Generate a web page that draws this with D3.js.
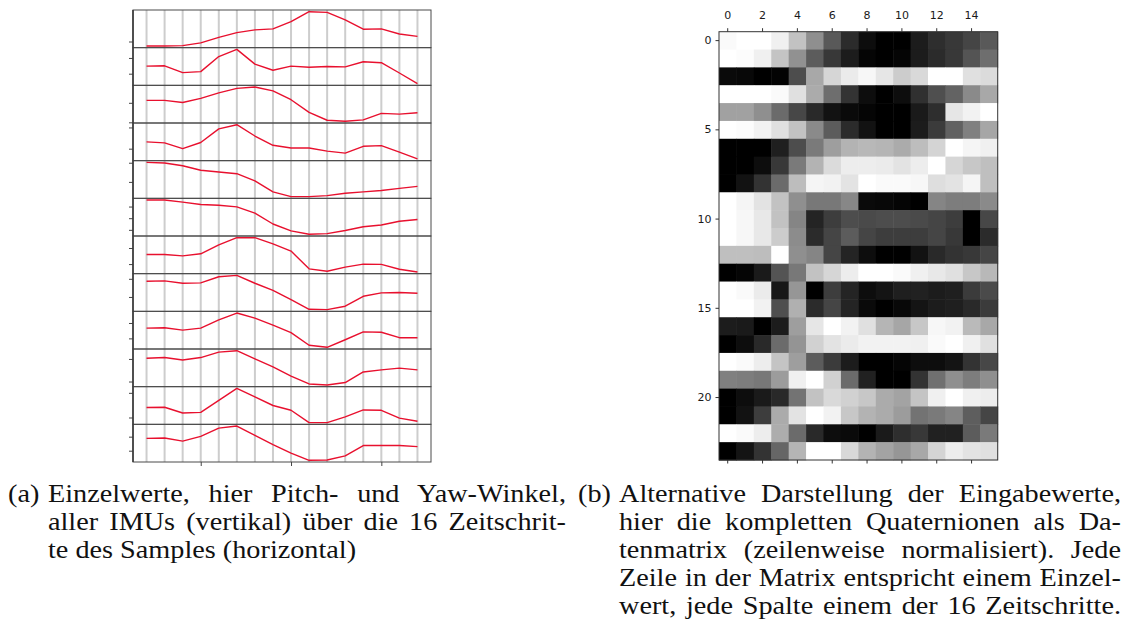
<!DOCTYPE html>
<html>
<head>
<meta charset="utf-8">
<script src="https://cdn.jsdelivr.net/npm/d3@7"></script>
<style>
  html, body { margin: 0; padding: 0; background: #fff; }
  svg { display: block; }
</style>
</head>
<body>
<svg id="fig" width="1129" height="637"></svg>
<script>
// ---- data -------------------------------------------------------------

// 16 time steps of one sample
const timeSteps = [0, 1, 2, 3, 4, 5, 6, 7, 8, 9, 10, 11, 12, 13, 14, 15];
const timeTicks = [3, 8, 13];

// Pitch / yaw angle traces of all IMUs (one row per subplot, scaled 0..1)
const angleSeries = [
  [0.00, 0.00, 0.01, 0.09, 0.25, 0.39, 0.47, 0.50, 0.71, 1.00, 0.98, 0.76, 0.49, 0.50, 0.35, 0.28],
  [0.51, 0.52, 0.32, 0.35, 0.79, 1.00, 0.57, 0.39, 0.51, 0.48, 0.50, 0.49, 0.64, 0.61, 0.31, 0.00],
  [0.61, 0.61, 0.55, 0.67, 0.83, 0.96, 1.00, 0.89, 0.63, 0.26, 0.03, 0.00, 0.04, 0.23, 0.21, 0.25],
  [0.50, 0.47, 0.30, 0.48, 0.88, 1.00, 0.67, 0.40, 0.32, 0.32, 0.23, 0.17, 0.37, 0.39, 0.20, 0.00],
  [1.00, 0.98, 0.90, 0.77, 0.72, 0.67, 0.46, 0.14, 0.00, 0.00, 0.03, 0.10, 0.14, 0.18, 0.24, 0.30],
  [1.00, 1.00, 0.94, 0.87, 0.85, 0.80, 0.62, 0.30, 0.10, 0.00, 0.02, 0.11, 0.22, 0.27, 0.38, 0.43],
  [0.51, 0.51, 0.47, 0.53, 0.79, 1.00, 1.00, 0.82, 0.61, 0.09, 0.02, 0.14, 0.23, 0.22, 0.08, 0.00],
  [0.83, 0.84, 0.77, 0.78, 0.96, 1.00, 0.77, 0.56, 0.29, 0.01, 0.00, 0.10, 0.39, 0.49, 0.50, 0.48],
  [0.56, 0.57, 0.50, 0.56, 0.80, 1.00, 0.85, 0.65, 0.43, 0.06, 0.00, 0.22, 0.45, 0.44, 0.28, 0.28],
  [0.78, 0.80, 0.73, 0.80, 0.96, 1.00, 0.76, 0.53, 0.26, 0.03, 0.00, 0.07, 0.38, 0.44, 0.49, 0.44],
  [0.44, 0.45, 0.28, 0.30, 0.65, 1.00, 0.75, 0.50, 0.36, 0.00, 0.00, 0.17, 0.37, 0.36, 0.13, 0.04],
  [0.64, 0.65, 0.56, 0.70, 0.94, 1.00, 0.73, 0.46, 0.21, 0.00, 0.01, 0.13, 0.43, 0.43, 0.43, 0.40]
];

// unlabeled y ticks of each subplot
const angleTicks = [
  [0.13],
  [0.29, 0.75],
  [-0.03, 0.54],
  [0.30, 0.92],
  [0.43, 0.99],
  [0.13, 0.47, 0.81],
  [0.23, 0.70],
  [0.37, 0.90],
  [0.26, 0.71],
  [0.10, 0.76],
  [0.15, 0.87],
  [0.28, 0.69]
];

// Quaternion data matrix: 24 rows (single values) x 16 columns (time steps)
const quaternionMatrix = [
  [ 98, 100, 100,  94,  76,  56,  35,  17,   5,   0,   0,  11,  18,  22,  27,  35],
  [100,  99,  94,  77,  57,  36,  22,  11,   2,   0,   2,  11,  17,  22,  33,  43],
  [  4,   3,   0,   1,  30,  66,  84,  92,  97,  90,  80,  85, 100, 100,  88,  86],
  [100, 100, 100,  98,  88,  67,  43,  20,   5,   0,   5,  19,  31,  39,  54,  66],
  [ 63,  63,  56,  42,  28,  16,   7,   4,   2,   0,   0,  10,  18,  90,  95, 100],
  [100,  99,  95,  88,  76,  54,  36,  17,   7,   0,   0,  11,  23,  38,  50,  65],
  [  0,   0,   0,  12,  30,  48,  62,  70,  72,  71,  67,  74,  83, 100,  96,  94],
  [  0,   0,   5,  22,  48,  70,  86,  93,  93,  92,  89,  93, 100,  84,  78,  75],
  [  0,   7,  20,  42,  74,  96,  95,  89, 100,  98,  98,  97,  87,  89,  96,  75],
  [100,  96,  89,  76,  56,  47,  47,  53,   4,   3,   2,   0,  52,  49,  49,  54],
  [100,  97,  91,  76,  52,  14,  24,  30,  29,  30,  30,  29,  27,  24,   0,  28],
  [100,  97,  91,  80,  55,  17,  27,  36,  27,  24,  24,  24,  27,  22,   0,  17],
  [ 75,  75,  74, 100,  56,  52,  27,  14,   5,   0,   0,   7,  16,  20,  22,  27],
  [  0,   2,  10,  33,  47,  76,  84,  93, 100, 100,  98,  94,  91,  88,  78,  72],
  [100,  98,  92,   9,  59,   0,  24,  14,   5,   8,  12,  13,  11,  12,  23,  29],
  [100, 100,  95,  31,  69,  17,  27,  14,   4,   0,   3,   8,  11,  12,  16,  23],
  [ 11,  10,   0,  11,  62,  90, 100,  95,  88,  71,  65,  78,  97,  95,  73,  66],
  [  0,   5,  16,  42,  58,  82,  89,  92,  95,  95,  95,  94,  98, 100,  94,  88],
  [100,  98,  93,  77,  62,  36,  23,  11,   0,   0,   2,   5,   5,   8,  20,  28],
  [ 50,  49,  47,  61,  94, 100,  82,  42,  13,   0,   0,  20,  44,  56,  49,  56],
  [  0,   5,  10,  16,  45,  76,  85,  82,  78,  67,  64,  77,  94, 100,  94,  93],
  [  0,   7,  24,  67,  89, 100,  95,  78,  70,  67,  61,  45,  48,  52,  37,  27],
  [100,  98,  93,  68,  42,  16,   5,   4,   0,  10,  18,  22,  13,  13,  36,  48],
  [  0,   8,  20,  40,  71, 100, 100,  85,  70,  64,  59,  66,  83,  93,  89,  88]
];
const matrixColTicks = [0, 2, 4, 6, 8, 10, 12, 14];
const matrixRowTicks = [0, 5, 10, 15, 20];

// captions: label, body lines, whether the last line is set flush right too
const captionA = {
  label: "(a)",
  lines: [
    "Einzelwerte, hier Pitch- und Yaw-Winkel,",
    "aller IMUs (vertikal) über die 16 Zeitschrit-",
    "te des Samples (horizontal)"
  ],
  justifyLast: false
};
const captionB = {
  label: "(b)",
  lines: [
    "Alternative Darstellung der Eingabewerte,",
    "hier die kompletten Quaternionen als Da-",
    "tenmatrix (zeilenweise normalisiert). Jede",
    "Zeile in der Matrix entspricht einem Einzel-",
    "wert, jede Spalte einem der 16 Zeitschritte."
  ],
  justifyLast: true
};

// ---- figure -----------------------------------------------------------
const svg = d3.select("#fig");

// ---------- (a) stacked line subplots ----------
const lineBox = { left: 133, right: 431, top: 10, bottom: 462 };

const x = d3.scaleLinear()
  .domain([-0.75, 15.75])
  .range([lineBox.left, lineBox.right]);

const band = d3.scaleBand()
  .domain(d3.range(angleSeries.length))
  .range([lineBox.top, lineBox.bottom])
  .padding(0);

const gLines = svg.append("g");

// vertical grid at every time step
gLines.append("g")
  .selectAll("line")
  .data(timeSteps)
  .join("line")
  .attr("x1", d => x(d)).attr("x2", d => x(d))
  .attr("y1", lineBox.top).attr("y2", lineBox.bottom)
  .attr("stroke", "#cdcdcd")
  .attr("stroke-width", 2);

angleSeries.forEach((series, i) => {
  const y0 = band(i), y1 = band(i) + band.bandwidth();
  const [lo, hi] = d3.extent(series);
  const pad = (hi - lo) * 0.05;
  const y = d3.scaleLinear().domain([lo - pad, hi + pad]).range([y1, y0]);

  const g = gLines.append("g");

  // y ticks (no labels)
  const ax = g.append("g")
    .attr("transform", `translate(${lineBox.left},0)`)
    .call(d3.axisLeft(y).tickValues(angleTicks[i]).tickFormat("").tickSize(4).tickSizeOuter(0));
  ax.select(".domain").remove();
  ax.selectAll(".tick line").attr("stroke", "#444").attr("stroke-width", 1);

  // data trace
  g.append("path")
    .datum(series)
    .attr("fill", "none")
    .attr("stroke", "#e8102e")
    .attr("stroke-width", 1.4)
    .attr("stroke-linejoin", "round")
    .attr("d", d3.line().x((d, j) => x(timeSteps[j])).y(d => y(d)));

  // subplot frame
  g.append("rect")
    .attr("x", lineBox.left).attr("y", y0)
    .attr("width", lineBox.right - lineBox.left)
    .attr("height", band.bandwidth())
    .attr("fill", "none")
    .attr("stroke", "#4a4a4a")
    .attr("stroke-width", 1);
});

// shared x axis ticks (no labels)
const xAx = gLines.append("g")
  .attr("transform", `translate(0,${lineBox.bottom})`)
  .call(d3.axisBottom(x).tickValues(timeTicks).tickFormat("").tickSize(4).tickSizeOuter(0));
xAx.select(".domain").remove();
xAx.selectAll(".tick line").attr("stroke", "#444");

// left spine a little heavier
gLines.append("line")
  .attr("x1", lineBox.left).attr("x2", lineBox.left)
  .attr("y1", lineBox.top).attr("y2", lineBox.bottom)
  .attr("stroke", "#3a3a3a").attr("stroke-width", 1.6);

// ---------- (b) data matrix ----------
const matBox = { left: 719, right: 997.7, top: 31.7, bottom: 460 };
const cols = d3.range(quaternionMatrix[0].length);
const rows = d3.range(quaternionMatrix.length);

const mx = d3.scaleBand().domain(cols).range([matBox.left, matBox.right]);
const my = d3.scaleBand().domain(rows).range([matBox.top, matBox.bottom]);

const gMat = svg.append("g");

quaternionMatrix.forEach((row, r) => {
  // each row normalised to its own range, gray colour map
  const c = d3.scaleLinear().domain(d3.extent(row)).range(["#000", "#fff"]);
  gMat.append("g")
    .selectAll("rect")
    .data(row)
    .join("rect")
    .attr("x", (d, j) => mx(j))
    .attr("y", my(r))
    .attr("width", mx.bandwidth() + 0.5)
    .attr("height", my.bandwidth() + 0.5)
    .attr("fill", d => c(d));
});

gMat.append("rect")
  .attr("x", matBox.left).attr("y", matBox.top)
  .attr("width", matBox.right - matBox.left)
  .attr("height", matBox.bottom - matBox.top)
  .attr("fill", "none")
  .attr("stroke", "#333")
  .attr("stroke-width", 1);

function styleAxis(sel) {
  sel.select(".domain").remove();
  sel.selectAll(".tick line").attr("stroke", "#333");
  sel.selectAll(".tick text")
    .attr("font-family", "DejaVu Sans, sans-serif")
    .attr("font-size", 11)
    .attr("fill", "#1a1a1a");
}

gMat.append("g")
  .attr("transform", `translate(0,${matBox.top})`)
  .call(d3.axisTop(mx).tickValues(matrixColTicks).tickSize(3.5).tickPadding(9))
  .call(styleAxis);

gMat.append("g")
  .attr("transform", `translate(0,${matBox.bottom})`)
  .call(d3.axisBottom(mx).tickValues(matrixColTicks).tickFormat("").tickSize(3.5))
  .call(styleAxis);

gMat.append("g")
  .attr("transform", `translate(${matBox.left},0)`)
  .call(d3.axisLeft(my).tickValues(matrixRowTicks).tickSize(3.5).tickPadding(4))
  .call(styleAxis);

// ---------- captions ----------
const capFont = "Liberation Serif, Times New Roman, serif";
const capSize = 25;
const capStretch = 1.13;   // wider glyphs, closer to a book face
const lineGap = 28;

function drawCaption(cap, labelX, bodyX, bodyRight, baseY) {
  const g = svg.append("g")
    .attr("font-family", capFont)
    .attr("font-size", capSize)
    .attr("fill", "#111");
  g.append("text")
    .attr("transform", `translate(${labelX},${baseY}) scale(${capStretch},1)`)
    .text(cap.label);
  const target = (bodyRight - bodyX) / capStretch;
  cap.lines.forEach((ln, k) => {
    const t = g.append("text")
      .attr("transform", `translate(${bodyX},${baseY + k * lineGap}) scale(${capStretch},1)`)
      .text(ln);
    const last = k === cap.lines.length - 1;
    if (!last || cap.justifyLast) {
      const natural = t.node().getComputedTextLength();
      const spaces = (ln.match(/ /g) || []).length;
      if (spaces > 0) {
        t.attr("word-spacing", (target - natural) / spaces);
      }
    }
  });
}

drawCaption(captionA, 8, 48, 566, 502);
drawCaption(captionB, 578, 619, 1121, 502);
</script>
</body>
</html>
